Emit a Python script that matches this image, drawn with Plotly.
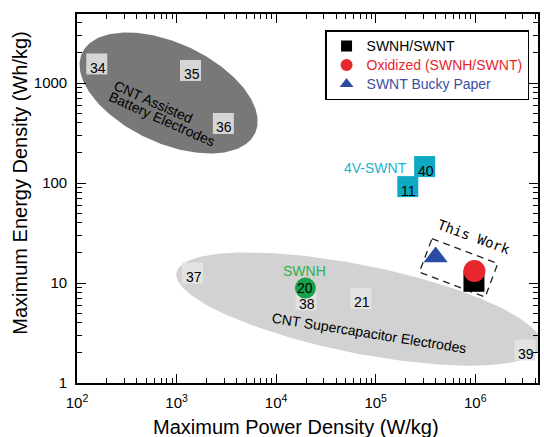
import numpy as np
import plotly.graph_objects as go

# ---------------- data ----------------
# literature reference points (grey squares with reference numbers)
ref_labels = ["34", "35", "36", "37", "38", "21", "39"]
ref_power = [158, 1380, 2950, 1450, 20000, 70800, 3.16e6]      # W/kg
ref_energy = [1550, 1335, 394, 12.6, 6.8, 7.0, 2.14]           # Wh/kg
ref_on_dark = [True, True, True, False, False, False, False]

# 4V-SWNT points (cyan squares)
swnt4v_labels = ["40", "11"]
swnt4v_power = [3.1e5, 2.1e5]
swnt4v_energy = [146, 92]

# SWNH point (green circle)
swnh_labels = ["20"]
swnh_power = [1.97e4]
swnh_energy = [8.9]

# This work
work_names = ["SWNH/SWNT", "Oxidized (SWNH/SWNT)", "SWNT Bucky Paper"]
work_power = [9.7e5, 9.8e5, 4.0e5]
work_energy = [10.4, 13.2, 18.2]

x_tick_vals = [1e2, 1e3, 1e4, 1e5, 1e6]
x_tick_text = ["10<sup>2</sup>", "10<sup>3</sup>", "10<sup>4</sup>", "10<sup>5</sup>", "10<sup>6</sup>"]
y_tick_vals = [1, 10, 100, 1000]
y_tick_text = ["1", "10", "100", "1000"]

# ---------------- styles ----------------
FONT = "Liberation Sans, Arial, Helvetica, sans-serif"
MONO = "DejaVu Sans Mono, Liberation Mono, monospace"
BLACK = "#000000"
RED = "#e8262e"
BLUE = "#2b4ca0"
BLUE_TXT = "#3a4fa6"
CYAN = "#0ea9c3"
CYAN_TXT = "#1ab3cc"
GREEN = "#15a04a"
GREEN_TXT = "#2bb24e"
DARK_ELL = "#787878"
LIGHT_ELL = "#d2d2d2"
SQ_ON_DARK = "#d6d6d6"
SQ_ON_LIGHT = "#e2e2e2"


def ellipse(cx, cy, a, b, ang_deg, n=240):
    """Ellipse defined in log10 space, returned in data units."""
    t = np.linspace(0, 2 * np.pi, n)
    th = np.deg2rad(ang_deg)
    u = a * np.cos(t)
    v = b * np.sin(t)
    lx = cx + u * np.cos(th) - v * np.sin(th)
    ly = cy + u * np.sin(th) + v * np.cos(th)
    return 10 ** lx, 10 ** ly


def rect(cx, cy, hw, hh, ang_deg):
    th = np.deg2rad(ang_deg)
    pts = [(-hw, hh), (hw, hh), (hw, -hh), (-hw, -hh), (-hw, hh)]
    lx = [cx + u * np.cos(th) - v * np.sin(th) for u, v in pts]
    ly = [cy + u * np.sin(th) + v * np.cos(th) for u, v in pts]
    return 10 ** np.array(lx), 10 ** np.array(ly)


fig = go.Figure()

# ellipses
ex, ey = ellipse(2.92, 2.90, 0.957, 0.50, -24.7)
fig.add_trace(go.Scatter(x=ex, y=ey, mode="lines", fill="toself", fillcolor=DARK_ELL,
                         line=dict(width=0), hoverinfo="skip", showlegend=False))
ex, ey = ellipse(4.83, 0.74, 1.867, 0.441, -11.3)
fig.add_trace(go.Scatter(x=ex, y=ey, mode="lines", fill="toself", fillcolor=LIGHT_ELL,
                         line=dict(width=0), hoverinfo="skip", showlegend=False))

# reference squares
fig.add_trace(go.Scatter(
    x=ref_power, y=ref_energy, mode="markers",
    marker=dict(symbol="square", size=21,
                color=[SQ_ON_DARK if d else SQ_ON_LIGHT for d in ref_on_dark],
                line=dict(width=0)),
    hoverinfo="skip", showlegend=False))

# 4V-SWNT squares
fig.add_trace(go.Scatter(
    x=swnt4v_power, y=swnt4v_energy, mode="markers",
    marker=dict(symbol="square", size=21, color=CYAN, line=dict(width=0)),
    hoverinfo="skip", showlegend=False))

# SWNH circle
fig.add_trace(go.Scatter(
    x=swnh_power, y=swnh_energy, mode="markers",
    marker=dict(symbol="circle", size=21, color=GREEN, line=dict(width=0)),
    hoverinfo="skip", showlegend=False))

# dashed box around "This Work"
bx, by = rect(5.832, 1.151, 0.353, 0.179, -20.7)
fig.add_trace(go.Scatter(x=bx, y=by, mode="lines",
                         line=dict(color="#222222", width=1.3, dash="7px,5px"),
                         hoverinfo="skip", showlegend=False))

# this work markers
work_symbols = ["square", "circle", "triangle-up"]
work_colors = [BLACK, RED, BLUE]
work_sizes = [21, 22, 21]
for i in [0, 1, 2]:
    fig.add_trace(go.Scatter(
        x=[work_power[i]], y=[work_energy[i]], mode="markers",
        marker=dict(symbol=work_symbols[i], size=work_sizes[i], color=work_colors[i],
                    line=dict(width=0)),
        hoverinfo="skip", showlegend=False))

# legend entries
legend_txt_colors = [BLACK, RED, BLUE_TXT]
legend_sizes = [11, 12, 12]
for i in range(3):
    fig.add_trace(go.Scatter(
        x=[None], y=[None], mode="markers",
        marker=dict(symbol=work_symbols[i], size=legend_sizes[i], color=work_colors[i]),
        name=f"<span style='font-size:14px;color:{legend_txt_colors[i]}'>{work_names[i]}</span>",
        showlegend=True))

annotations = []
# reference numbers
for lab, px, py in zip(ref_labels, ref_power, ref_energy):
    annotations.append(dict(x=np.log10(px), y=np.log10(py), xref="x", yref="y",
                            text=lab, showarrow=False, yshift=-4, xshift=1,
                            font=dict(family=FONT, size=14, color="black")))
for lab, px, py in zip(swnt4v_labels, swnt4v_power, swnt4v_energy):
    annotations.append(dict(x=np.log10(px), y=np.log10(py), xref="x", yref="y",
                            text=lab, showarrow=False, yshift=-4, xshift=1,
                            font=dict(family=FONT, size=14, color="black")))
for lab, px, py in zip(swnh_labels, swnh_power, swnh_energy):
    annotations.append(dict(x=np.log10(px), y=np.log10(py), xref="x", yref="y",
                            text=lab, showarrow=False,
                            font=dict(family=FONT, size=14, color="black")))

# descriptive labels
annotations += [
    dict(x=5.00, y=2.155, xref="x", yref="y", text="4V-SWNT", showarrow=False,
         font=dict(family=FONT, size=14, color=CYAN_TXT)),
    dict(x=4.28, y=1.12, xref="x", yref="y", text="SWNH", showarrow=False,
         font=dict(family=FONT, size=14, color=GREEN_TXT)),
    dict(x=2.77, y=2.81, xref="x", yref="y", text="CNT Assisted", showarrow=False,
         textangle=24, font=dict(family=FONT, size=14, color="black")),
    dict(x=2.855, y=2.645, xref="x", yref="y", text="Battery Electrodes", showarrow=False,
         textangle=24, font=dict(family=FONT, size=14, color="black")),
    dict(x=4.935, y=0.505, xref="x", yref="y", text="CNT Supercapacitor Electrodes",
         showarrow=False, textangle=9, font=dict(family=FONT, size=14, color="black")),
    dict(x=5.99, y=1.465, xref="x", yref="y", text="This Work", showarrow=False,
         textangle=20, font=dict(family=MONO, size=14, color="black")),
    # axis titles
    dict(x=0.475, y=-0.119, xref="paper", yref="paper", text="Maximum Power Density (W/kg)",
         xanchor="center", yanchor="middle",
         showarrow=False, font=dict(family=FONT, size=20, color="black")),
    dict(x=-0.123, y=0.541, xref="paper", yref="paper", text="Maximum Energy Density (Wh/kg)",
         xanchor="center", yanchor="middle",
         showarrow=False, textangle=-90, font=dict(family=FONT, size=20, color="black")),
]

x_minor = [k * 10 ** n for n in range(2, 7) for k in range(2, 10) if k * 10 ** n < 4.3e6]
y_minor = [k * 10 ** n for n in range(0, 4) for k in range(2, 10) if k * 10 ** n < 4.9e3]

axis_common = dict(
    type="log", showline=True, linecolor="black", linewidth=1.6, mirror="ticks",
    ticks="inside", ticklen=9, tickwidth=1.4, tickcolor="black",
    showgrid=False, zeroline=False,
    tickfont=dict(family=FONT, size=15, color="black"),
)

fig.update_layout(
    width=544, height=437,
    margin=dict(l=77, r=4, t=14, b=54),
    paper_bgcolor="white", plot_bgcolor="white",
    font=dict(family=FONT, color="black"),
    xaxis=dict(range=[2, 6.63], tickvals=x_tick_vals, ticktext=x_tick_text,
               ticklabelstandoff=5,
               minor=dict(tickvals=x_minor, ticks="inside", ticklen=5, tickwidth=1.2,
                          tickcolor="black", showgrid=False),
               **axis_common),
    yaxis=dict(range=[0, 3.69], tickvals=y_tick_vals, ticktext=y_tick_text,
               ticklabelstandoff=5,
               minor=dict(tickvals=y_minor, ticks="inside", ticklen=5, tickwidth=1.2,
                          tickcolor="black", showgrid=False),
               **axis_common),
    legend=dict(x=0.9806, y=0.9566, xanchor="right", yanchor="top",
                bgcolor="white", bordercolor="black", borderwidth=1.5,
                font=dict(family=FONT, size=12), tracegroupgap=0,
                itemwidth=30),
    annotations=annotations,
)

fig.write_html("out.html")
